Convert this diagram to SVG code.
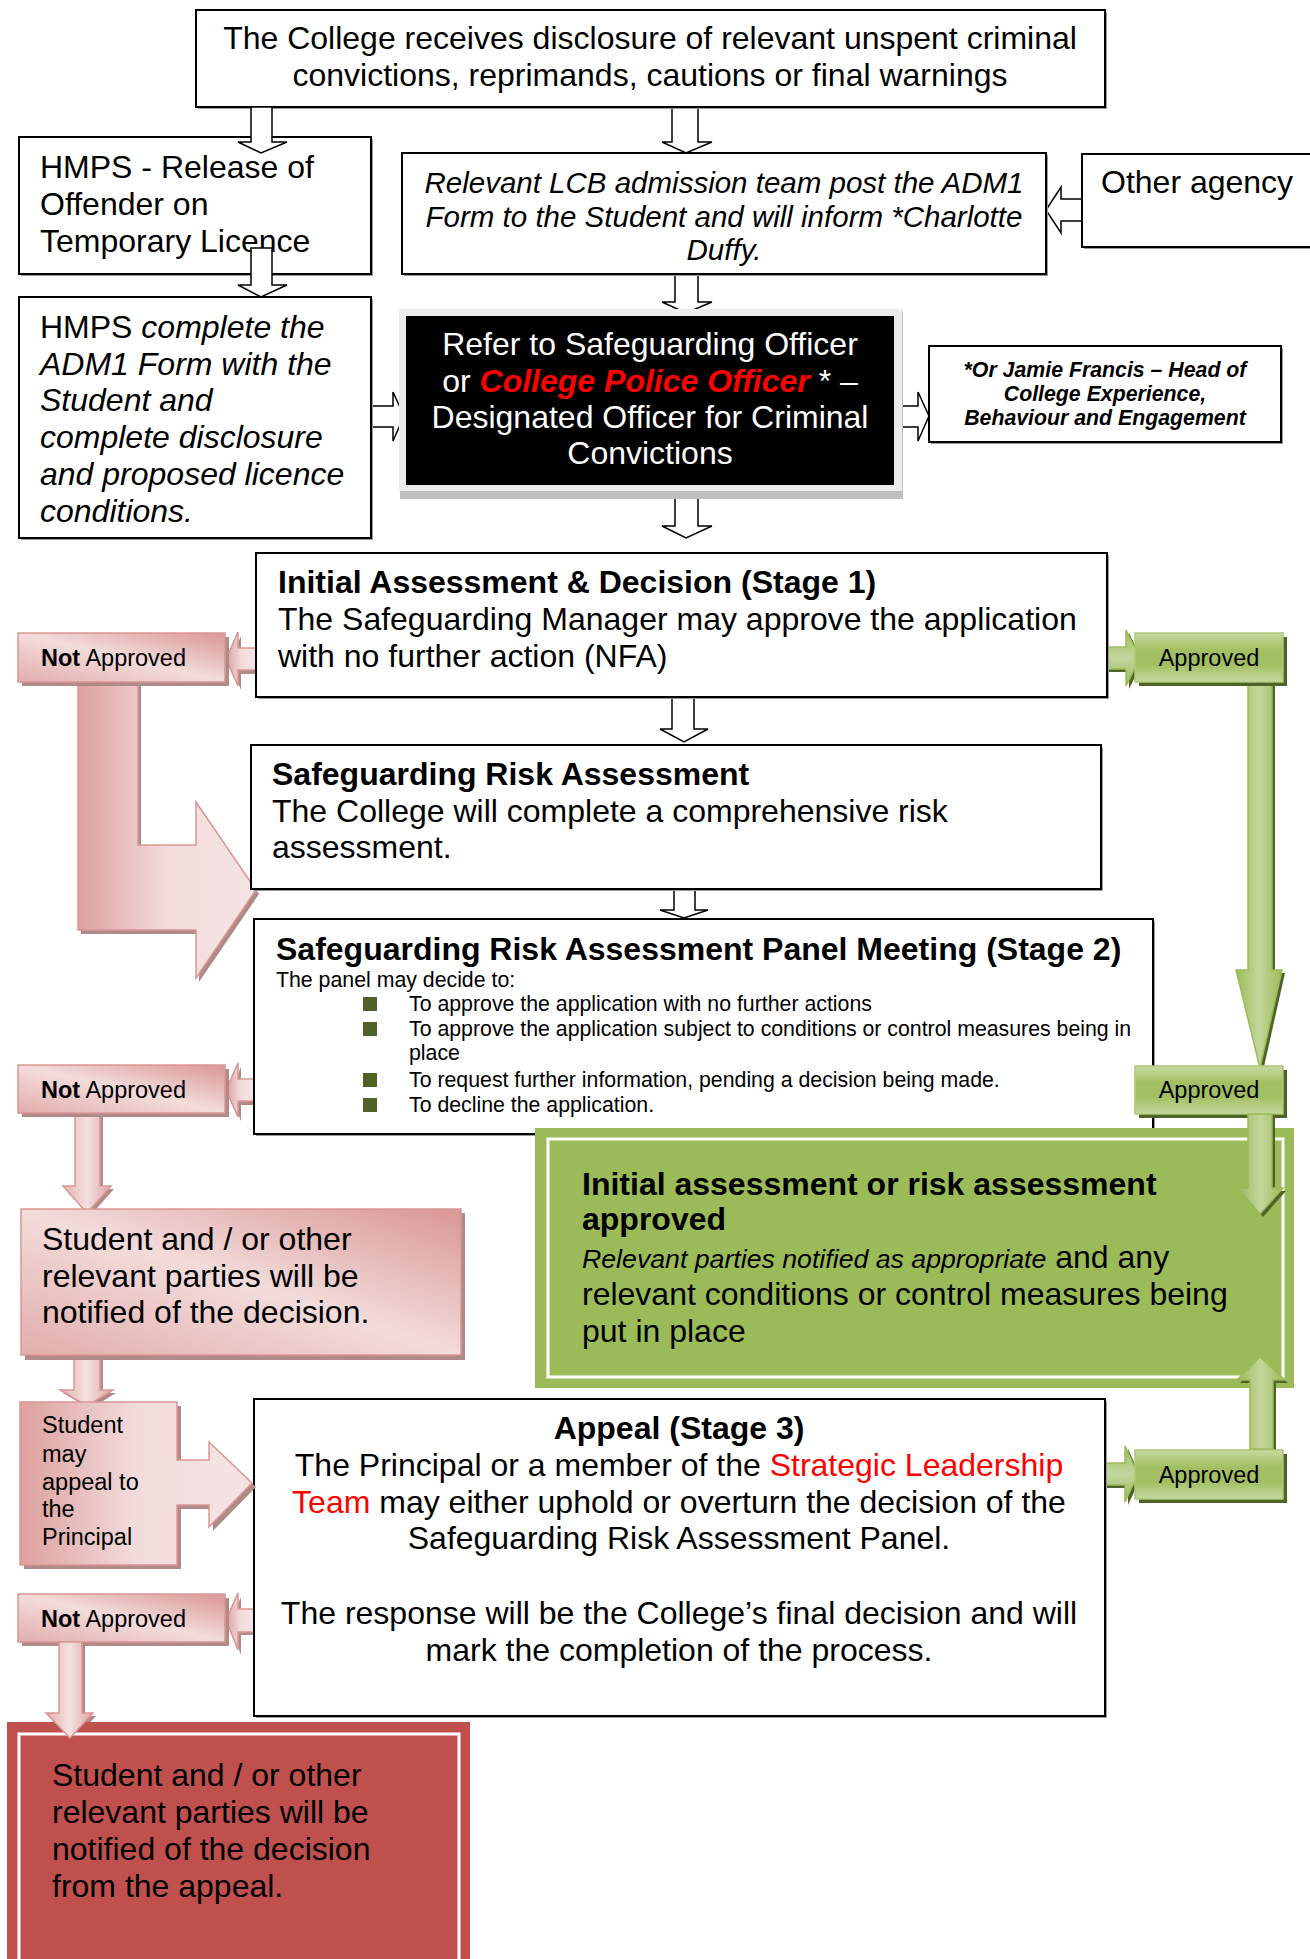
<svg xmlns="http://www.w3.org/2000/svg" width="1310" height="1959" viewBox="0 0 1310 1959">
<defs>
<linearGradient id="pinkBox" x1="1" y1="0" x2="0" y2="1">
<stop offset="0" stop-color="#D99694"/>
<stop offset="0.5" stop-color="#F2DCDB"/>
<stop offset="1" stop-color="#E2ADAC"/>
</linearGradient>
<linearGradient id="pinkArrow" x1="0" y1="0" x2="1" y2="0">
<stop offset="0" stop-color="#DCA09F"/>
<stop offset="0.5" stop-color="#F2DCDB"/>
<stop offset="1" stop-color="#F5E4E4"/>
</linearGradient>
<linearGradient id="pinkV" x1="0" y1="0" x2="1" y2="0">
<stop offset="0" stop-color="#E3B0AF"/>
<stop offset="0.5" stop-color="#F4E1E1"/>
<stop offset="1" stop-color="#DFA6A5"/>
</linearGradient>
<linearGradient id="greenBox" x1="0" y1="0" x2="0" y2="1">
<stop offset="0" stop-color="#C6D9A0"/>
<stop offset="0.35" stop-color="#A2C063"/>
<stop offset="0.65" stop-color="#A2C063"/>
<stop offset="1" stop-color="#C6D9A0"/>
</linearGradient>
<linearGradient id="greenV" x1="0" y1="0" x2="1" y2="0">
<stop offset="0" stop-color="#9BBB59"/>
<stop offset="0.5" stop-color="#C3D69B"/>
<stop offset="1" stop-color="#9BBB59"/>
</linearGradient>
<linearGradient id="greenH" x1="0" y1="0" x2="0" y2="1">
<stop offset="0" stop-color="#9BBB59"/>
<stop offset="0.5" stop-color="#C3D69B"/>
<stop offset="1" stop-color="#9BBB59"/>
</linearGradient>
<style>
.t{font-family:"Liberation Sans",Arial,sans-serif;font-size:32px;fill:#000}
.b{font-weight:bold}
.i{font-style:italic}
.m{text-anchor:middle}
.s23{font-size:23.5px}
.s21{font-size:21.3px}
.s29{font-size:29.5px}
.w{fill:#FFFFFF}
.red{fill:#FF0000}
.box{fill:#FFFFFF;stroke:#000000;stroke-width:2}
.bsh{fill:#9A9A9A}
.hol{fill:#FFFFFF;stroke:#000000;stroke-width:1.5;stroke-linejoin:miter}
.pk{fill:url(#pinkBox);stroke:#D99694;stroke-width:1.5}
.pka{fill:url(#pinkArrow);stroke:#D99694;stroke-width:1.5}
.pkv{fill:url(#pinkV);stroke:#D99694;stroke-width:1.5}
.psh{fill:#B08A89}
.gb{fill:url(#greenBox);stroke:#AFC878;stroke-width:1.5}
.gv{fill:url(#greenV);stroke:#9BBB59;stroke-width:1.5}
.gh{fill:url(#greenH);stroke:#9BBB59;stroke-width:1.5}
.gsh{fill:#4F6228}
.bul{fill:#4F6228}
</style>
</defs>
<rect width="1310" height="1959" fill="#FFFFFF"/>

<g id="connectors">
<!-- hollow arrows -->
<polygon class="hol" points="672,107 698,107 698,142 712,142 686,153 662,142 672,142"/>
<polygon class="hol" points="1082,199 1061,199 1061,187 1046,210 1061,233 1061,221 1082,221"/>
<polygon class="hol" points="675,274 698,274 698,302 712,302 686,313 662,302 675,302"/>
<polygon class="hol" points="371,406 393,406 393,392 404,416 393,441 393,427 371,427"/>
<polygon class="hol" points="898,406 918,406 918,392 929,416 918,441 918,427 898,427"/>
<polygon class="hol" points="675,489 698,489 698,526 712,526 686,538 662,526 675,526"/>
<polygon class="hol" points="672,697 694,697 694,729 708,729 684,742 660,729 672,729"/>
<polygon class="hol" points="674,889 695,889 695,910 708,910 684,918 660,910 674,910"/>
<!-- bent pink arrow -->
<polygon class="psh" points="81,686 141,686 141,849 199,849 199,806 259,894 199,982 199,934 81,934"/>
<polygon class="pka" points="78,682 138,682 138,845 196,845 196,802 256,890 196,978 196,930 78,930"/>
<!-- small pink left arrows -->
<polygon class="psh" points="259,651 241,651 241,636 229,662 241,690 241,674 259,674"/>
<polygon class="pka" points="257,648 238,648 238,632 226,659 238,686 238,670 257,670"/>
<polygon class="psh" points="257,1082 241,1082 241,1067 229,1093 241,1121 241,1105 257,1105"/>
<polygon class="pka" points="255,1079 238,1079 238,1063 226,1090 238,1117 238,1101 255,1101"/>
<polygon class="psh" points="257,1612 241,1612 241,1597 229,1623 241,1655 241,1635 257,1635"/>
<polygon class="pka" points="255,1609 238,1609 238,1593 226,1620 238,1650 238,1632 255,1632"/>
<!-- pink down arrows -->
<polygon class="psh" points="78,1116 103,1116 103,1189 114,1189 90,1216 66,1189 78,1189"/>
<polygon class="pkv" points="75,1113 100,1113 100,1186 111,1186 87,1213 63,1186 75,1186"/>
<polygon class="psh" points="77,1358 103,1358 103,1393 116,1393 90,1409 63,1393 77,1393"/>
<polygon class="pkv" points="74,1355 100,1355 100,1390 113,1390 87,1406 60,1390 74,1390"/>
<polygon class="psh" points="62,1645 85,1645 85,1716 96,1716 73,1741 49,1716 62,1716"/>
<!-- green arrows -->
<polygon class="gsh" points="1109,650 1129,650 1129,633 1143,661 1129,689 1129,672 1109,672"/>
<polygon class="gh" points="1107,647 1126,647 1126,630 1140,658 1126,686 1126,669 1107,669"/>
<polygon class="gsh" points="1251,685 1275,685 1275,973 1285,973 1263,1071 1239,973 1251,973"/>
<polygon class="gv" points="1248,682 1272,682 1272,970 1282,970 1260,1068 1236,970 1248,970"/>
<polygon class="gsh" points="1107,1466 1128,1466 1128,1449 1141,1477 1128,1505 1128,1488 1107,1488"/>
<polygon class="gh" points="1105,1463 1125,1463 1125,1446 1138,1474 1125,1502 1125,1485 1105,1485"/>
</g>

<g id="n-top">
<rect class="bsh" x="198" y="12" width="909" height="97"/>
<rect class="box" x="196" y="10" width="909" height="97"/>
<text class="t m" x="650" y="49">The College receives disclosure of relevant unspent criminal</text>
<text class="t m" x="650" y="86">convictions, reprimands, cautions or final warnings</text>
</g>

<g id="n-hmps-release">
<rect class="bsh" x="21" y="139" width="352" height="137"/>
<rect class="box" x="19" y="137" width="352" height="137"/>
<text class="t" x="40" y="178">HMPS - Release of</text>
<text class="t" x="40" y="215">Offender on</text>
<text class="t" x="40" y="252">Temporary Licence</text>
</g>

<g id="connectors-hmps">
<polygon class="hol" points="251,107 272,107 272,142 287,142 261,153 238,142 251,142"/>
<polygon class="hol" points="251,248 272,248 272,285 287,285 261,297 238,285 251,285"/>
</g>

<g id="n-lcb">
<rect class="bsh" x="404" y="155" width="644" height="121"/>
<rect class="box" x="402" y="153" width="644" height="121"/>
<text class="t i s29 m" x="724" y="193">Relevant LCB admission team post the ADM1</text>
<text class="t i s29 m" x="724" y="227">Form to the Student and will inform *Charlotte</text>
<text class="t i s29 m" x="724" y="260">Duffy.</text>
</g>

<g id="n-other-agency">
<rect class="bsh" x="1084" y="156" width="240" height="93"/>
<rect class="box" x="1082" y="154" width="240" height="93"/>
<text class="t" x="1101" y="193">Other agency</text>
</g>

<g id="n-hmps-complete">
<rect class="bsh" x="21" y="299" width="352" height="241"/>
<rect class="box" x="19" y="297" width="352" height="241"/>
<text class="t" x="40" y="338">HMPS <tspan class="i">complete the</tspan></text>
<text class="t i" x="40" y="375">ADM1 Form with the</text>
<text class="t i" x="40" y="411">Student and</text>
<text class="t i" x="40" y="448">complete disclosure</text>
<text class="t i" x="40" y="485">and proposed licence</text>
<text class="t i" x="40" y="522">conditions.</text>
</g>

<g id="n-refer">
<rect x="400" y="311" width="503" height="188" fill="#BFBFBF"/>
<rect x="399" y="309" width="503" height="182" fill="#ECECEC"/>
<rect x="406" y="316" width="488" height="169" fill="#000000"/>
<text class="t w m" x="650" y="355">Refer to Safeguarding Officer</text>
<text class="t w m" x="650" y="392">or <tspan class="b i red">College Police Officer</tspan> * –</text>
<text class="t w m" x="650" y="428">Designated Officer for Criminal</text>
<text class="t w m" x="650" y="464">Convictions</text>
</g>

<g id="n-jamie">
<rect class="bsh" x="931" y="348" width="352" height="96"/>
<rect class="box" x="929" y="346" width="352" height="96"/>
<text class="t b i s21 m" x="1105" y="377">*Or Jamie Francis – Head of</text>
<text class="t b i s21 m" x="1105" y="401">College Experience,</text>
<text class="t b i s21 m" x="1105" y="425">Behaviour and Engagement</text>
</g>

<g id="n-initial">
<rect class="bsh" x="258" y="555" width="851" height="144"/>
<rect class="box" x="256" y="553" width="851" height="144"/>
<text class="t b" x="278" y="593">Initial Assessment &amp; Decision (Stage 1)</text>
<text class="t" x="278" y="630">The Safeguarding Manager may approve the application</text>
<text class="t" x="278" y="667">with no further action (NFA)</text>
</g>

<g id="n-risk">
<rect class="bsh" x="253" y="747" width="850" height="144"/>
<rect class="box" x="251" y="745" width="850" height="144"/>
<text class="t b" x="272" y="785">Safeguarding Risk Assessment</text>
<text class="t" x="272" y="822">The College will complete a comprehensive risk</text>
<text class="t" x="272" y="858">assessment.</text>
</g>

<g id="n-panel">
<rect class="bsh" x="256" y="921" width="899" height="215"/>
<rect class="box" x="254" y="919" width="899" height="215"/>
<text class="t b" x="276" y="960">Safeguarding Risk Assessment Panel Meeting (Stage 2)</text>
<text class="t s21" x="276" y="987">The panel may decide to:</text>
<rect class="bul" x="363" y="997" width="14" height="14"/>
<text class="t s21" x="409" y="1011">To approve the application with no further actions</text>
<rect class="bul" x="363" y="1022" width="14" height="14"/>
<text class="t s21" x="409" y="1036">To approve the application subject to conditions or control measures being in</text>
<text class="t s21" x="409" y="1060">place</text>
<rect class="bul" x="363" y="1073" width="14" height="14"/>
<text class="t s21" x="409" y="1087">To request further information, pending a decision being made.</text>
<rect class="bul" x="363" y="1098" width="14" height="14"/>
<text class="t s21" x="409" y="1112">To decline the application.</text>
</g>

<g id="n-not-approved-1">
<rect class="psh" x="22" y="637" width="207" height="49"/>
<rect class="pk" x="18" y="633" width="207" height="49"/>
<text class="t s23" x="41" y="666"><tspan class="b">Not</tspan> Approved</text>
</g>

<g id="n-approved-1">
<rect class="gsh" x="1139" y="637" width="148" height="49"/>
<rect class="gb" x="1135" y="633" width="148" height="49"/>
<text class="t s23 m" x="1209" y="666">Approved</text>
</g>

<g id="n-not-approved-2">
<rect class="psh" x="22" y="1069" width="207" height="48"/>
<rect class="pk" x="18" y="1065" width="207" height="48"/>
<text class="t s23" x="41" y="1098"><tspan class="b">Not</tspan> Approved</text>
</g>

<g id="n-approved-2">
<rect class="gsh" x="1139" y="1070" width="148" height="48"/>
<rect class="gb" x="1135" y="1066" width="148" height="48"/>
<text class="t s23 m" x="1209" y="1098">Approved</text>
</g>

<g id="n-student-notified">
<rect class="psh" x="25" y="1213" width="440" height="147"/>
<rect class="pk" x="21" y="1209" width="440" height="146"/>
<text class="t" x="42" y="1250">Student and / or other</text>
<text class="t" x="42" y="1287">relevant parties will be</text>
<text class="t" x="42" y="1323">notified of the decision.</text>
</g>

<g id="n-approved-outcome">
<rect x="535" y="1128" width="759" height="260" fill="#9BBB59"/>
<rect x="548" y="1139" width="735" height="238" fill="none" stroke="#FFFFFF" stroke-width="3"/>
<text class="t b" x="582" y="1195">Initial assessment or risk assessment</text>
<text class="t b" x="582" y="1230">approved</text>
<text class="t" x="582" y="1268"><tspan class="i" font-size="26.7px">Relevant parties notified as appropriate</tspan> and any</text>
<text class="t" x="582" y="1305">relevant conditions or control measures being</text>
<text class="t" x="582" y="1342">put in place</text>
</g>

<g id="connectors-green-over">
<polygon class="gsh" points="1251,1117 1275,1117 1275,1191 1286,1191 1263,1217 1241,1191 1251,1191"/>
<polygon class="gv" points="1248,1114 1272,1114 1272,1188 1283,1188 1260,1214 1238,1188 1248,1188"/>
<polygon class="gsh" points="1253,1452 1276,1452 1276,1383 1288,1383 1262,1360 1240,1383 1253,1383"/>
<polygon class="gv" points="1250,1449 1273,1449 1273,1380 1285,1380 1260,1357 1237,1380 1250,1380"/>
</g>

<g id="n-appeal">
<rect class="bsh" x="256" y="1401" width="851" height="317"/>
<rect class="box" x="254" y="1399" width="851" height="317"/>
<text class="t b m" x="679" y="1439">Appeal (Stage 3)</text>
<text class="t m" x="679" y="1476">The Principal or a member of the <tspan class="red">Strategic Leadership</tspan></text>
<text class="t m" x="679" y="1513"><tspan class="red">Team</tspan> may either uphold or overturn the decision of the</text>
<text class="t m" x="679" y="1549">Safeguarding Risk Assessment Panel.</text>
<text class="t m" x="679" y="1624">The response will be the College’s final decision and will</text>
<text class="t m" x="679" y="1661">mark the completion of the process.</text>
</g>

<g id="n-student-appeal">
<polygon class="psh" points="24,1406 181,1406 181,1464 213,1464 213,1446 256,1487 213,1531 213,1509 181,1509 181,1569 24,1569"/>
<polygon class="pka" points="20,1402 177,1402 177,1460 209,1460 209,1442 252,1483 209,1527 209,1505 177,1505 177,1565 20,1565"/>
<text class="t s23" x="42" y="1433">Student</text>
<text class="t s23" x="42" y="1462">may</text>
<text class="t s23" x="42" y="1490">appeal to</text>
<text class="t s23" x="42" y="1517">the</text>
<text class="t s23" x="42" y="1545">Principal</text>
</g>

<g id="n-approved-3">
<rect class="gsh" x="1139" y="1454" width="148" height="49"/>
<rect class="gb" x="1135" y="1450" width="148" height="49"/>
<text class="t s23 m" x="1209" y="1483">Approved</text>
</g>

<g id="n-not-approved-3">
<rect class="psh" x="22" y="1598" width="207" height="48"/>
<rect class="pk" x="18" y="1594" width="207" height="48"/>
<text class="t s23" x="41" y="1627"><tspan class="b">Not</tspan> Approved</text>
</g>

<g id="n-final-decision">
<rect x="7" y="1722" width="463" height="240" fill="#C0504D"/>
<rect x="19" y="1734" width="440" height="240" fill="none" stroke="#FFFFFF" stroke-width="3"/>
<text class="t" x="52" y="1786">Student and / or other</text>
<text class="t" x="52" y="1823">relevant parties will be</text>
<text class="t" x="52" y="1860">notified of the decision</text>
<text class="t" x="52" y="1897">from the appeal.</text>
</g>

<g id="connectors-final">
<polygon class="pkv" points="59,1642 82,1642 82,1713 93,1713 70,1738 46,1713 59,1713"/>
</g>
</svg>
